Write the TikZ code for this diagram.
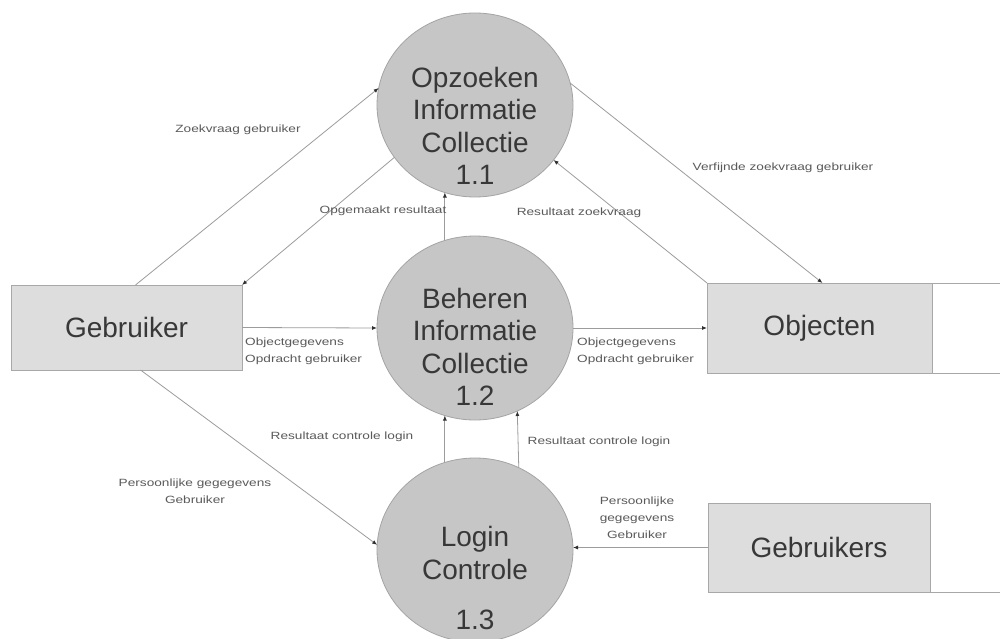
\documentclass[tikz,border=0pt]{standalone}
\usepackage{fontspec}
\setmainfont{Liberation Sans}
\newfontfamily\lblfont[FakeStretch=1.3]{Liberation Sans}
\usetikzlibrary{shapes.geometric,arrows.meta}
\definecolor{procfill}{HTML}{C6C6C6}
\definecolor{procline}{HTML}{A4A4A4}
\definecolor{boxfill}{HTML}{DDDDDD}
\definecolor{boxline}{HTML}{A8A8A8}
\definecolor{flowline}{HTML}{9C9C9C}
\definecolor{tipcol}{HTML}{303030}
\definecolor{bigtext}{HTML}{383838}
\definecolor{lbltext}{HTML}{5A5A5A}
\tikzset{
  proc/.style={ellipse, fill=procfill, draw=procline, line width=0.8pt,
    minimum width=196pt, minimum height=184pt, inner sep=0pt, outer sep=0pt},
  proctext/.style={align=center, text=bigtext, font=\fontsize{28}{32.5}\selectfont},
  entity/.style={rectangle, fill=boxfill, draw=boxline, line width=0.8pt,
    inner sep=0pt, outer sep=0pt, text=bigtext, font=\fontsize{28}{32}\selectfont},
  flow/.style={draw=flowline, line width=0.8pt,
    -{Latex[length=5pt,width=4pt,color=tipcol]}},
  storeline/.style={draw=boxline, line width=0.8pt},
  lbl/.style={text=lbltext, align=center, inner sep=0pt,
    font=\lblfont\fontsize{10.5}{17}\selectfont},
  lbll/.style={lbl, align=left, anchor=west}
}
\begin{document}
\begin{tikzpicture}[x=1pt,y=-1pt]
\useasboundingbox (0,0) rectangle (1000,639);
\fill[white] (0,0) rectangle (1000,639);

% processes
\node[proc] (p1) at (475,105) {};
\node[proc] (p2) at (475,328) {};
\node[proc] (p3) at (475,550) {};
\node[proctext] (t1) at (475,126) {Opzoeken\\Informatie\\Collectie\\1.1};
\node[proctext] (t2) at (475,347) {Beheren\\Informatie\\Collectie\\1.2};
\node[proctext] (t3) at (475,578) {Login\\Controle\\[18pt]1.3};

% entities / stores
\node[entity, minimum width=231pt, minimum height=85pt] (geb) at (126.5,327.5) {Gebruiker};
\node[entity, minimum width=225pt, minimum height=90pt] (obj) at (819.5,328) {Objecten};
\node[entity, minimum width=222pt, minimum height=89pt] (gbs) at (819,547.5) {Gebruikers};
\coordinate (objNE) at (1000,283);
\coordinate (objSE) at (1000,373);
\coordinate (gbsSE) at (1000,592);
\draw[storeline] (obj.north east) -- (objNE);
\draw[storeline] (obj.south east) -- (objSE);
\draw[storeline] (gbs.south east) -- (gbsSE);

% flows
\draw[flow] ([xshift=9pt]geb.north) -- (p1.170);
\draw[flow] (p1.213) -- (geb.north east);
\draw[flow] (p1.13) -- ([xshift=3pt]obj.north);
\draw[flow] (obj.north west) -- (p1.325);
\draw[flow] (p2.109) -- (p1.251);
\draw[flow] (geb.east) -- (p2.west);
\draw[flow] (p2.east) -- (obj.west);
\draw[flow] (p3.109) -- (p2.251);
\draw[flow] (p3.62.5) -- (p2.297.5);
\draw[flow] ([xshift=14pt]geb.south) -- (p3.177);
\draw[flow] (gbs.west) -- (gbs.west -| p3.east);

% labels
\node[lbl] (l1) at (238,130) {Zoekvraag gebruiker};
\node[lbl] (l2) at (383,211) {Opgemaakt resultaat};
\node[lbl] (l3) at (783,168) {Verfijnde zoekvraag gebruiker};
\node[lbl] (l4) at (579,213) {Resultaat zoekvraag};
\node[lbll] (l5) at (245,351) {Objectgegevens\\Opdracht gebruiker};
\node[lbll] (l6) at (577,351) {Objectgegevens\\Opdracht gebruiker};
\node[lbl] (l7) at (342,437) {Resultaat controle login};
\node[lbl] (l8) at (599,442) {Resultaat controle login};
\node[lbl] (l9) at (195,491) {Persoonlijke gegegevens\\Gebruiker};
\node[lbl] (l10) at (637,518) {Persoonlijke\\gegegevens\\Gebruiker};
\end{tikzpicture}
\end{document}
